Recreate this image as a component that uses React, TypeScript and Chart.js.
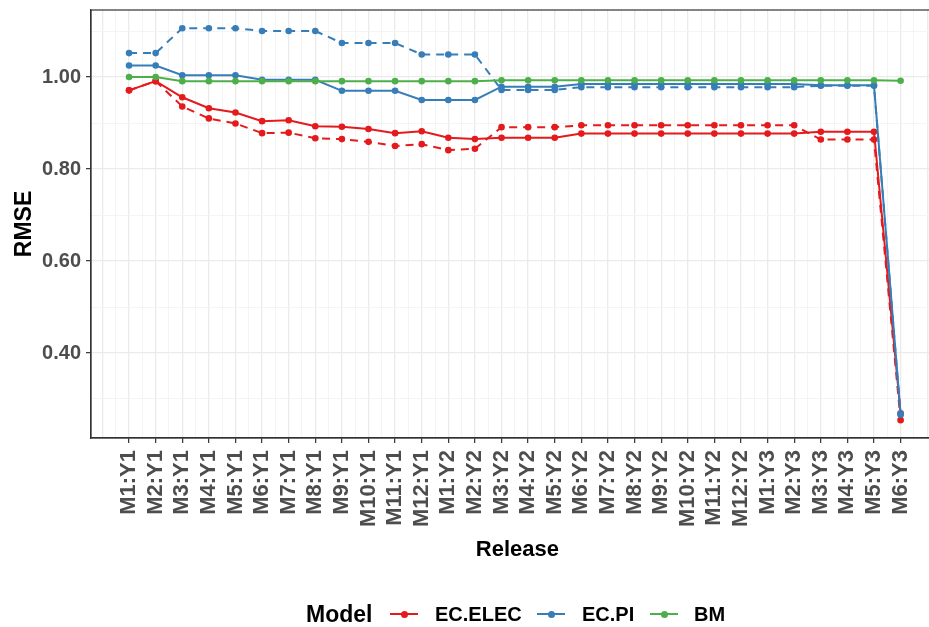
import React, { useEffect, useRef } from 'react';
import { Chart, registerables } from 'chart.js';
Chart.register(...registerables);

const categories = [
  'M1:Y1', 'M2:Y1', 'M3:Y1', 'M4:Y1', 'M5:Y1', 'M6:Y1', 'M7:Y1', 'M8:Y1', 'M9:Y1', 'M10:Y1', 'M11:Y1', 'M12:Y1',
  'M1:Y2', 'M2:Y2', 'M3:Y2', 'M4:Y2', 'M5:Y2', 'M6:Y2', 'M7:Y2', 'M8:Y2', 'M9:Y2', 'M10:Y2', 'M11:Y2', 'M12:Y2',
  'M1:Y3', 'M2:Y3', 'M3:Y3', 'M4:Y3', 'M5:Y3', 'M6:Y3',
];

const elecSolid = [
  0.971, 0.991, 0.956, 0.932, 0.923, 0.904, 0.906, 0.893, 0.892, 0.887, 0.878, 0.882,
  0.868, 0.865, 0.868, 0.868, 0.868, 0.877, 0.877, 0.877, 0.877, 0.877, 0.877, 0.877,
  0.877, 0.877, 0.881, 0.881, 0.881, 0.269,
];
const elecDashed = [
  0.971, 0.991, 0.936, 0.910, 0.899, 0.878, 0.879, 0.867, 0.865, 0.859, 0.850, 0.854,
  0.841, 0.844, 0.891, 0.891, 0.891, 0.895, 0.895, 0.895, 0.895, 0.895, 0.895, 0.895,
  0.895, 0.895, 0.864, 0.864, 0.864, 0.254,
];
const piSolid = [
  1.025, 1.025, 1.004, 1.004, 1.004, 0.994, 0.994, 0.994, 0.970, 0.970, 0.970, 0.950,
  0.950, 0.950, 0.979, 0.979, 0.979, 0.985, 0.985, 0.985, 0.985, 0.985, 0.985, 0.985,
  0.985, 0.985, 0.982, 0.982, 0.982, 0.268,
];
const piDashed = [
  1.052, 1.052, 1.106, 1.106, 1.106, 1.100, 1.100, 1.100, 1.074, 1.074, 1.074, 1.049,
  1.049, 1.049, 0.972, 0.972, 0.972, 0.978, 0.978, 0.978, 0.978, 0.978, 0.978, 0.978,
  0.978, 0.978, 0.981, 0.981, 0.981, 0.266,
];
const bm = [
  1.000, 1.000, 0.991, 0.991, 0.991, 0.991, 0.991, 0.991, 0.991, 0.991, 0.991, 0.991,
  0.991, 0.991, 0.993, 0.993, 0.993, 0.993, 0.993, 0.993, 0.993, 0.993, 0.993, 0.993,
  0.993, 0.993, 0.993, 0.993, 0.993, 0.992,
];

const yTicks = [0.3, 0.4, 0.5, 0.6, 0.7, 0.8, 0.9, 1.0, 1.1];
const yMajor = [0.4, 0.6, 0.8, 1.0];

const legendItems = [
  { label: 'EC.ELEC', color: '#E41A1C' },
  { label: 'EC.PI', color: '#377EB8' },
  { label: 'BM', color: '#4DAF4A' },
];

const FONT = '"Liberation Sans", Arial, Helvetica, sans-serif';

export default function App() {
  const ref = useRef<HTMLCanvasElement>(null);

  useEffect(() => {
    document.body.style.margin = '0';
    document.body.style.overflow = 'hidden';
    const canvas = ref.current;
    if (!canvas) return;
    const toPts = (arr: number[]) => arr.map((y, i) => ({ x: i + 1, y }));
    const mk = (label: string, arr: number[], color: string, dashed: boolean, order: number) => ({
      label,
      data: toPts(arr),
      borderColor: color,
      backgroundColor: color,
      borderWidth: 2,
      borderDash: dashed ? [8, 6] : [],
      pointRadius: 3.3,
      pointHoverRadius: 3.3,
      pointBorderWidth: 0,
      tension: 0,
      order,
    });

    const isMajorY = (v: number) => yMajor.some((m) => Math.abs(m - v) < 1e-6);
    const isLabeledX = (v: number) => Number.isInteger(v) && v >= 1 && v <= categories.length;

    const panelBorder = {
      id: 'panelBorder',
      afterDraw(chart: any) {
        const { ctx, chartArea: a } = chart;
        ctx.save();
        ctx.strokeStyle = '#333333';
        ctx.lineWidth = 1.2;
        ctx.strokeRect(a.left, a.top, a.right - a.left, a.bottom - a.top);
        ctx.restore();
      },
    };

    const chart = new Chart(canvas, {
      type: 'line',
      data: {
        datasets: [
          mk('BM', bm, '#4DAF4A', false, 0),
          mk('EC.PI', piSolid, '#377EB8', false, 1),
          mk('EC.PI dashed', piDashed, '#377EB8', true, 2),
          mk('EC.ELEC', elecSolid, '#E41A1C', false, 3),
          mk('EC.ELEC dashed', elecDashed, '#E41A1C', true, 4),
        ],
      },
      options: {
        animation: false,
        responsive: false,
        maintainAspectRatio: false,
        layout: { padding: { top: 10, left: 0, right: 0, bottom: 52 } },
        plugins: {
          legend: { display: false },
          tooltip: { enabled: false },
        },
        events: [],
        scales: {
          x: {
            type: 'linear',
            min: -0.43,
            max: 31.62,
            afterBuildTicks(scale: any) {
              const t = [];
              for (let v = 0; v <= 31.5; v += 0.5) t.push({ value: v });
              scale.ticks = t;
            },
            afterFit(scale: any) {
              scale.height = 137;
              scale.paddingLeft = 0;
              scale.paddingRight = 0;
            },
            ticks: {
              autoSkip: false,
              minRotation: 90,
              maxRotation: 90,
              padding: 7,
              color: '#4d4d4d',
              font: { family: FONT, size: 22, weight: 'bold' },
              callback: (value: any) => (isLabeledX(value) ? categories[value - 1] : ''),
            },
            grid: {
              color: (ctx: any) => (Number.isInteger(ctx.tick?.value) ? '#ebebeb' : '#f3f3f3'),
              lineWidth: (ctx: any) => (Number.isInteger(ctx.tick?.value) ? 1.3 : 0.9),
              tickColor: (ctx: any) => (isLabeledX(ctx.tick?.value) ? '#333333' : 'rgba(0,0,0,0)'),
              tickLength: 5,
              tickWidth: 1.2,
            },
            border: { display: true, color: '#333333', width: 1.2 },
            title: {
              display: true,
              text: 'Release',
              color: '#000000',
              font: { family: FONT, size: 22, weight: 'bold' },
              padding: { top: 0, bottom: 12 },
            },
          },
          y: {
            type: 'linear',
            min: 0.2152,
            max: 1.1457,
            afterBuildTicks(scale: any) {
              scale.ticks = yTicks.map((v) => ({ value: v }));
            },
            afterFit(scale: any) {
              scale.width = 91;
              scale.paddingTop = 0;
              scale.paddingBottom = 0;
            },
            ticks: {
              padding: 5,
              color: '#4d4d4d',
              font: { family: FONT, size: 20, weight: 'bold' },
              callback: (value: any) => (isMajorY(value) ? Number(value).toFixed(2) : ''),
            },
            grid: {
              color: (ctx: any) => (isMajorY(ctx.tick?.value) ? '#ebebeb' : '#f3f3f3'),
              lineWidth: (ctx: any) => (isMajorY(ctx.tick?.value) ? 1.3 : 0.9),
              tickColor: (ctx: any) => (isMajorY(ctx.tick?.value) ? '#333333' : 'rgba(0,0,0,0)'),
              tickLength: 5,
              tickWidth: 1.2,
            },
            border: { display: true, color: '#333333', width: 1.2 },
            title: {
              display: true,
              text: 'RMSE',
              color: '#000000',
              font: { family: FONT, size: 23, weight: 'bold' },
              padding: { top: 11, bottom: 0 },
            },
          },
        },
      },
      plugins: [panelBorder],
    } as any);
    return () => chart.destroy();
  }, []);

  const legendX = [390, 537, 650];
  const textX = [435, 582, 694];

  return (
    <div style={{ position: 'relative', width: 947, height: 627, overflow: 'hidden', fontFamily: FONT }}>
      <canvas ref={ref} width={947} height={627} style={{ display: 'block', width: 947, height: 627 }} />
      <div style={{ position: 'absolute', left: 306, top: 600, height: 28, lineHeight: '28px', fontSize: 23, fontWeight: 'bold', color: '#000' }}>
        Model
      </div>
      {legendItems.map((it, i) => (
        <React.Fragment key={it.label}>
          <div style={{ position: 'absolute', left: legendX[i], top: 613, width: 28, height: 2, background: it.color }} />
          <div style={{ position: 'absolute', left: legendX[i] + 10.5, top: 610.5, width: 7, height: 7, borderRadius: '50%', background: it.color }} />
          <div style={{ position: 'absolute', left: textX[i], top: 600, height: 28, lineHeight: '28px', fontSize: 20, fontWeight: 'bold', color: '#000', whiteSpace: 'nowrap' }}>
            {it.label}
          </div>
        </React.Fragment>
      ))}
    </div>
  );
}
